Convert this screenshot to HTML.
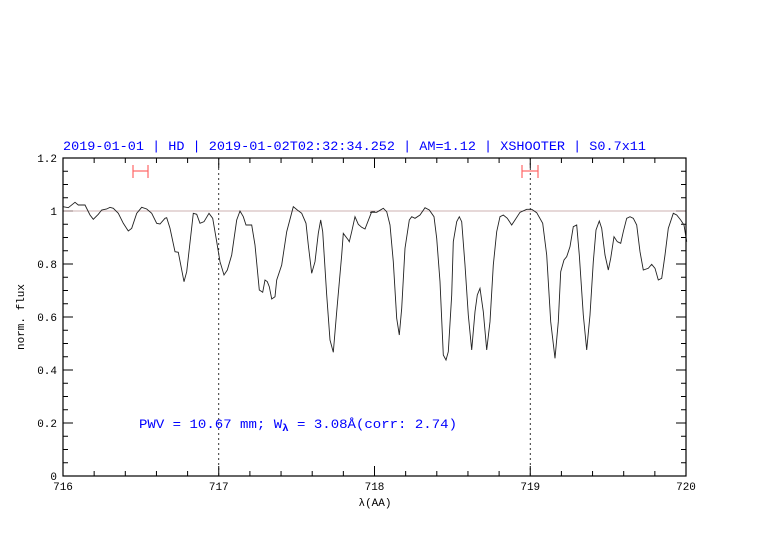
<!DOCTYPE html>
<html><head><meta charset="utf-8"><style>body{margin:0;background:#fff}svg{display:block}</style></head>
<body>
<svg id="s" width="782" height="542" xmlns="http://www.w3.org/2000/svg" font-family="Liberation Sans, sans-serif">
<rect width="782" height="542" fill="#fff"/>
<g id="ticks" stroke="#000" stroke-width="1"></g>
<line x1="63" y1="211" x2="686" y2="211" stroke="#b99" stroke-width="0.7"/>
<line x1="218.75" y1="158" x2="218.75" y2="476" stroke="#000" stroke-width="0.8" stroke-dasharray="2,3"/>
<line x1="530.25" y1="158" x2="530.25" y2="476" stroke="#000" stroke-width="0.8" stroke-dasharray="2,3"/>
<g stroke="#f66" stroke-width="1.2">
<line x1="133" y1="171" x2="148" y2="171"/><line x1="133" y1="165" x2="133" y2="178"/><line x1="148" y1="165" x2="148" y2="178"/>
<line x1="522" y1="171" x2="538" y2="171"/><line x1="522" y1="165" x2="522" y2="178"/><line x1="538" y1="165" x2="538" y2="178"/>
</g>
<polyline id="curve" fill="none" stroke="#222" stroke-width="0.9"/>
<rect x="63" y="158" width="623" height="318" fill="none" stroke="#000" stroke-width="1.2"/>
<text x="63" y="150" font-size="13" fill="#00f" font-family="Liberation Mono, monospace" textLength="583" lengthAdjust="spacingAndGlyphs">2019-01-01 | HD | 2019-01-02T02:32:34.252 | AM=1.12 | XSHOOTER | S0.7x11</text>
<text x="139" y="428" font-size="13" fill="#00f" font-family="Liberation Mono, monospace" textLength="318" lengthAdjust="spacingAndGlyphs" xml:space="preserve">PWV = 10.67 mm; W<tspan font-size="10" font-weight="bold" dy="3">λ</tspan><tspan dy="-3"> = 3.08Å(corr: 2.74)</tspan></text>
<text x="24" y="317" font-size="11" font-family="Liberation Mono, monospace" text-anchor="middle" transform="rotate(-90 24 317)">norm. flux</text>
<text x="375" y="506" font-size="11" font-family="Liberation Mono, monospace" text-anchor="middle">λ(AA)</text>
<g id="lab" font-size="11" font-family="Liberation Mono, monospace"></g>
</svg>
<script>
const ns="http://www.w3.org/2000/svg";
const X=v=>63+(v-716)*155.75, Y=v=>476-v*265;
const t=document.getElementById('ticks'), lab=document.getElementById('lab');
function ln(a,b,c,d){const l=document.createElementNS(ns,'line');l.setAttribute('x1',a);l.setAttribute('y1',b);l.setAttribute('x2',c);l.setAttribute('y2',d);t.appendChild(l);}
function tx(x,y,s,anc){const e=document.createElementNS(ns,'text');e.setAttribute('x',x);e.setAttribute('y',y);e.setAttribute('text-anchor',anc);e.textContent=s;lab.appendChild(e);}
for(let i=0;i<=20;i++){const x=X(716+i*0.2);const L=i%5==0?10:5;ln(x,476,x,476-L);ln(x,158,x,158+L);if(i%5==0)tx(x,490,String(716+i/5),'middle');}
for(let i=0;i<=24;i++){const y=Y(i*0.05);const L=i%4==0?10:5;ln(63,y,63+L,y);ln(686,y,686-L,y);if(i%4==0){const v=i*0.05;let s=v==0?'0':(Math.abs(v-1)<1e-9?'1':(Math.round(v*10)/10).toString());tx(57,y+4,s,'end');}}
const a=[[18,155],[25,158],[45,142],[55,150],[75,150],[90,180],[100,193],[115,178],[125,165],[140,162],[150,157],[160,160],[175,175],[190,205],[205,228],[215,220],[230,175],[245,157],[260,162],[275,175],[290,205],[300,207],[315,190],[320,188],[330,220],[345,290],[355,292],[372,380],[380,350],[400,175],[410,178],[420,205],[432,200],[447,175],[458,190],[470,260],[480,320],[492,360],[502,345],[515,300],[530,195],[540,168],[550,185],[558,210],[575,210],[585,270],[598,405],[608,412],[615,375],[622,380],[628,395],[635,432],[645,425],[650,375],[665,330],[680,230],[700,155],[712,165],[725,175],[738,205],[745,270],[755,355],[765,320],[775,235],[782,195],[788,230],[800,420],[810,555],[820,592],[830,470],[845,300],[850,235],[865,255],[868,260],[875,230],[885,185],[895,208],[905,217],[915,222],[935,170],[945,170]];
const b=[[0,172],[20,172],[40,160],[50,170],[60,210],[70,320],[80,490],[88,540],[95,460],[105,280],[118,195],[125,185],[135,190],[150,180],[165,158],[178,165],[192,185],[200,250],[210,380],[220,600],[228,615],[235,590],[245,420],[250,260],[260,200],[268,185],[275,200],[285,330],[295,480],[305,585],[315,470],[322,420],[330,400],[340,470],[350,585],[360,500],[370,330],[380,230],[390,185],[400,180],[412,190],[425,210],[435,195],[450,172],[470,163],[485,163],[500,173],[518,205],[530,300],[542,500],[555,610],[565,500],[572,350],[582,315],[590,305],[600,275],[610,215],[620,210],[628,300],[640,480],[650,585],[660,480],[670,320],[678,225],[688,198],[695,220],[705,300],[715,345],[722,310],[732,245],[742,260],[752,265],[760,230],[770,190],[780,185],[790,190],[800,210],[810,290],[820,345],[835,340],[845,328],[855,340],[865,375],[875,370],[885,300],[895,220],[910,175],[920,180],[932,195],[942,210],[950,260]];
let pts=a.map(p=>[60+p[0]/3,155+p[1]/3]).concat(b.map(p=>[370+p[0]/3,155+p[1]/3]));
pts[0][0]=63;
document.getElementById('curve').setAttribute('points',pts.map(p=>p[0].toFixed(1)+','+p[1].toFixed(1)).join(' '));
</script>
</body></html>
